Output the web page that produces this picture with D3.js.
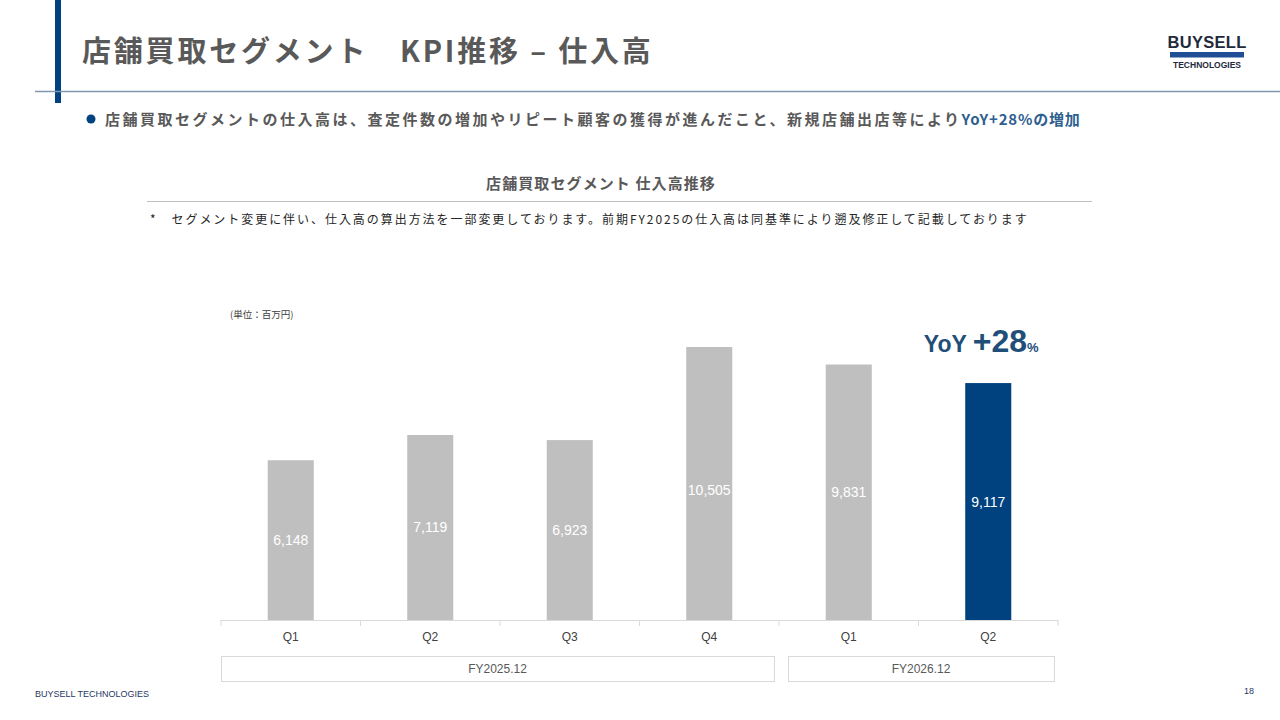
<!DOCTYPE html>
<html>
<head>
<meta charset="utf-8">
<script src="https://cdn.jsdelivr.net/npm/d3@7/dist/d3.min.js"></script>
<style>
  html, body { margin: 0; padding: 0; background: #fff; }
  svg { display: block; }
  text { font-family: "Liberation Sans", "Noto Sans CJK JP", sans-serif; }
  .jp { font-family: "Noto Sans CJK JP", "Liberation Sans", sans-serif; }
</style>
</head>
<body>
<div id="chart"></div>
<script>
// ── Data ────────────────────────────────────────────────────────────────
const quarters   = ["Q1", "Q2", "Q3", "Q4", "Q1", "Q2"];
const purchases  = [6148, 7119, 6923, 10505, 9831, 9117];   // 百万円
const fyLabels   = ["FY2025.12", "FY2026.12"];
const fyCounts   = [4, 2];
const highlightIndex = 5;
const yoyText    = "+28";

// ── Colours ────────────────────────────────────────────────────────────
const NAVY   = "#00427f";
const GREY   = "#bfbfbf";
const TEXT   = "#595959";
const RULE   = "#d9d9d9";

const W = 1280, H = 720;

const svg = d3.select("#chart").append("svg")
  .attr("width", W)
  .attr("height", H);

// ── Page header ────────────────────────────────────────────────────────
svg.append("rect")
  .attr("x", 55).attr("y", 0)
  .attr("width", 6).attr("height", 103)
  .attr("fill", NAVY);

svg.append("line")
  .attr("x1", 35).attr("x2", W)
  .attr("y1", 91.5).attr("y2", 91.5)
  .attr("stroke", "#8197ab").attr("stroke-width", 1.5);

svg.append("text")
  .attr("class", "jp")
  .attr("x", 82).attr("y", 62)
  .attr("font-size", 29).attr("font-weight", 700)
  .attr("letter-spacing", 2.8)
  .attr("fill", TEXT)
  .text("店舗買取セグメント　KPI推移 – 仕入高");

// logo
const logo = svg.append("g").attr("transform", "translate(1207,0)");
logo.append("text")
  .attr("x", 0).attr("y", 48)
  .attr("text-anchor", "middle")
  .attr("font-size", 16.5).attr("font-weight", 700)
  .attr("letter-spacing", 0.3)
  .attr("fill", "#1f2a3c")
  .text("BUYSELL");
logo.append("rect")
  .attr("x", -37).attr("y", 52)
  .attr("width", 74).attr("height", 5.5)
  .attr("fill", "#1f4e96");
logo.append("text")
  .attr("x", 0).attr("y", 68)
  .attr("text-anchor", "middle")
  .attr("font-size", 8.5).attr("font-weight", 700)
  .attr("fill", "#1f2a3c")
  .text("TECHNOLOGIES");

// bullet line
svg.append("circle")
  .attr("cx", 91).attr("cy", 119)
  .attr("r", 4.5)
  .attr("fill", NAVY);

const bullet = svg.append("text")
  .attr("class", "jp")
  .attr("x", 105).attr("y", 125)
  .attr("font-size", 15).attr("font-weight", 700)
  .attr("letter-spacing", 2.5)
  .attr("fill", TEXT);
bullet.append("tspan")
  .text("店舗買取セグメントの仕入高は、査定件数の増加やリピート顧客の獲得が進んだこと、新規店舗出店等により");
bullet.append("tspan")
  .attr("fill", "#2f5f8f")
  .attr("letter-spacing", 0.8)
  .text("YoY+28%の増加");

// ── Chart title block ──────────────────────────────────────────────────
svg.append("text")
  .attr("class", "jp")
  .attr("x", 601).attr("y", 189)
  .attr("text-anchor", "middle")
  .attr("font-size", 15).attr("font-weight", 700)
  .attr("letter-spacing", 1.1)
  .attr("fill", TEXT)
  .text("店舗買取セグメント 仕入高推移");

svg.append("line")
  .attr("x1", 147).attr("x2", 1092)
  .attr("y1", 201.5).attr("y2", 201.5)
  .attr("stroke", GREY).attr("stroke-width", 1);

svg.append("text")
  .attr("class", "jp")
  .attr("x", 150).attr("y", 224)
  .attr("font-size", 12)
  .attr("letter-spacing", 1.95)
  .attr("fill", "#262626")
  .text("*　セグメント変更に伴い、仕入高の算出方法を一部変更しております。前期FY2025の仕入高は同基準により遡及修正して記載しております");

svg.append("text")
  .attr("class", "jp")
  .attr("x", 230).attr("y", 318)
  .attr("font-size", 9.5)
  .attr("fill", "#404040")
  .text("(単位：百万円)");

// ── Bars ───────────────────────────────────────────────────────────────
const plot = { left: 221, right: 1058, top: 347, base: 620 };

const x = d3.scaleBand()
  .domain(d3.range(quarters.length))
  .range([plot.left, plot.right])
  .paddingInner(0.67)
  .paddingOuter(0.335);

const xStep = (plot.right - plot.left) / quarters.length;

const y = d3.scaleLinear()
  .domain([0, d3.max(purchases)])
  .range([plot.base, plot.top]);

const bars = svg.append("g");

bars.selectAll("rect")
  .data(purchases)
  .join("rect")
    .attr("x", (d, i) => x(i))
    .attr("y", d => y(d))
    .attr("width", x.bandwidth())
    .attr("height", d => y(0) - y(d))
    .attr("fill", (d, i) => i === highlightIndex ? NAVY : GREY);

bars.selectAll("text")
  .data(purchases)
  .join("text")
    .attr("x", (d, i) => x(i) + x.bandwidth() / 2)
    .attr("y", d => Math.max((y(d) + y(0)) / 2, y(0) - 130) + 5)
    .attr("text-anchor", "middle")
    .attr("font-size", 14)
    .attr("fill", "#fff")
    .text(d => d3.format(",")(d));

// YoY callout above highlighted bar
const yoy = svg.append("text")
  .attr("x", x(highlightIndex) + x.bandwidth() / 2 - 7)
  .attr("y", y(purchases[highlightIndex]) - 31)
  .attr("text-anchor", "middle")
  .attr("font-weight", 700)
  .attr("fill", "#1f4e79");
yoy.append("tspan").attr("font-size", 23).text("YoY ");
yoy.append("tspan").attr("font-size", 32).text(yoyText);
yoy.append("tspan").attr("font-size", 13).text("%");

// ── Category axis ──────────────────────────────────────────────────────
const xAxis = svg.append("g")
  .attr("transform", `translate(0,${plot.base})`);

xAxis.append("line")
  .attr("x1", plot.left).attr("x2", plot.right)
  .attr("y1", 0.5).attr("y2", 0.5)
  .attr("stroke", RULE);

xAxis.selectAll(".sep")
  .data(d3.range(quarters.length + 1))
  .join("line")
    .attr("class", "sep")
    .attr("x1", i => plot.left + i * xStep)
    .attr("x2", i => plot.left + i * xStep)
    .attr("y1", 0).attr("y2", 6)
    .attr("stroke", RULE);

xAxis.selectAll(".qlab")
  .data(quarters)
  .join("text")
    .attr("class", "qlab")
    .attr("x", (d, i) => x(i) + x.bandwidth() / 2)
    .attr("y", 21)
    .attr("text-anchor", "middle")
    .attr("font-size", 12)
    .attr("fill", "#404040")
    .text(d => d);

// ── Fiscal-year boxes ──────────────────────────────────────────────────
const fyStart = fyCounts.map((c, i) => d3.sum(fyCounts.slice(0, i)));
const fy = svg.append("g");

fyLabels.forEach((label, i) => {
  const x0 = plot.left + fyStart[i] * xStep + (i ? 9 : 0);
  const x1 = plot.left + (fyStart[i] + fyCounts[i]) * xStep - (i < fyLabels.length - 1 ? 5 : 4);
  fy.append("rect")
    .attr("x", x0 + 0.5).attr("y", 656.5)
    .attr("width", x1 - x0).attr("height", 25)
    .attr("fill", "#fff")
    .attr("stroke", RULE);
  fy.append("text")
    .attr("x", (x0 + x1) / 2).attr("y", 673)
    .attr("text-anchor", "middle")
    .attr("font-size", 12)
    .attr("fill", TEXT)
    .text(label);
});

// ── Footer ─────────────────────────────────────────────────────────────
svg.append("text")
  .attr("x", 35).attr("y", 697)
  .attr("font-size", 9)
  .attr("fill", "#1f3864")
  .text("BUYSELL TECHNOLOGIES");

svg.append("text")
  .attr("x", 1244).attr("y", 694)
  .attr("font-size", 9)
  .attr("fill", "#1f3864")
  .text("18");
</script>
</body>
</html>
